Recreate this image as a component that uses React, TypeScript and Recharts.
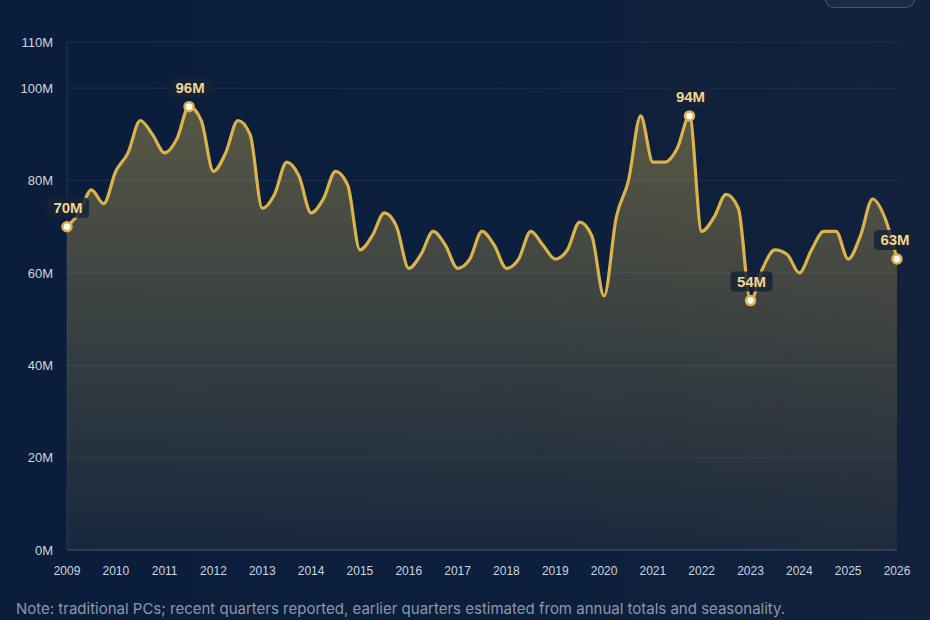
import { AreaChart, Area, XAxis, YAxis, CartesianGrid, LabelList } from 'recharts';

// quarterly shipments, millions, 2009 Q1 .. 2026 Q1
const shipments = [
  70, 73, 78, 75,
  82, 86, 93, 90,
  86, 89, 96, 93,
  82, 86, 93, 90,
  74, 77, 84, 81,
  73, 76, 82, 79,
  65, 68, 73, 70,
  61, 64, 69, 66,
  61, 63, 69, 66,
  61, 63, 69, 66,
  63, 65, 71, 68,
  55, 72, 80, 94,
  84, 84, 87, 94,
  69, 72, 77, 74,
  54, 61, 65, 64,
  60, 65, 69, 69,
  63, 68, 76, 72,
  63,
];
const startYear = 2009;
const yearTicks = [2009, 2010, 2011, 2012, 2013, 2014, 2015, 2016, 2017, 2018, 2019, 2020, 2021, 2022, 2023, 2024, 2025, 2026];
const valueTicks = [0, 20, 40, 60, 80, 100, 110];
const highlighted = [0, 10, 51, 56, 68];

const data = shipments.map((v, i) => ({ t: startYear + i / 4, value: v }));

const GOLD = '#dab34b';
const AXIS_FONT = '"Liberation Sans", Arial, sans-serif';

function MarkerDot(props: any) {
  const { cx, cy, index } = props;
  if (!highlighted.includes(index)) return <g key={`d-${index}`} />;
  return <circle key={`d-${index}`} cx={cx} cy={cy} r={4.5} fill="#fff" stroke={GOLD} strokeWidth={2.5} />;
}

function MarkerLabel(props: any) {
  const { x, y, value, index } = props;
  if (!highlighted.includes(index)) return null;
  const text = `${value}M`;
  const w = 42;
  const cx = index === shipments.length - 1 ? x - 2 : x + 1;
  return (
    <g>
      <rect x={cx - w / 2} y={y - 29} width={w} height={20} rx={4} fill="rgba(22,34,54,0.85)" />
      <text x={cx} y={y - 19} dy="0.36em" textAnchor="middle" fontSize={15} fontWeight={700} fill="#f2d68c" fontFamily={AXIS_FONT}>
        {text}
      </text>
    </g>
  );
}

export default function App() {
  return (
    <div
      style={{
        position: 'fixed',
        left: 0,
        top: 0,
        width: 930,
        height: 620,
        overflow: 'hidden',
        background: 'linear-gradient(90deg, #0a1e3c 0%, #0c1f3c 60%, #13223b 100%)',
        fontFamily: 'Inter, "Noto Sans", sans-serif',
      }}
    >
      <div
        style={{
          position: 'absolute',
          left: 825,
          top: -30,
          width: 88,
          height: 36,
          borderRadius: 9,
          border: '1px solid rgba(148,163,184,0.35)',
          background: '#1a2a40',
        }}
      />
      <AreaChart width={930} height={590} data={data} margin={{ top: 42, right: 33, left: 0, bottom: 0 }}>
        <defs>
          <linearGradient id="goldFill" x1="0" y1="0" x2="0" y2="1">
            <stop offset="0%" stopColor="#e2bd55" stopOpacity={0.6} />
            <stop offset="100%" stopColor="#e2bd55" stopOpacity={0.1} />
          </linearGradient>
        </defs>
        <CartesianGrid vertical={false} stroke="rgba(148,163,184,0.13)" />
        <XAxis
          dataKey="t"
          type="number"
          domain={[2009, 2026]}
          ticks={yearTicks}
          height={40}
          tickLine={false}
          tickMargin={10}
          axisLine={{ stroke: 'rgba(148,163,184,0.3)' }}
          tick={{ fontSize: 12, fill: '#cbd5e1', fontFamily: AXIS_FONT }}
        />
        <YAxis
          type="number"
          domain={[0, 110]}
          ticks={valueTicks}
          width={67}
          tickLine={false}
          tickMargin={8}
          axisLine={{ stroke: 'rgba(148,163,184,0.15)' }}
          tickFormatter={(v: number) => `${v}M`}
          tick={{ fontSize: 13, fill: '#cbd5e1', fontFamily: AXIS_FONT }}
        />
        <Area
          type="monotone"
          dataKey="value"
          stroke={GOLD}
          strokeWidth={3.2}
          fill="url(#goldFill)"
          dot={MarkerDot}
          activeDot={false}
          isAnimationActive={false}
        >
          <LabelList dataKey="value" content={MarkerLabel} />
        </Area>
      </AreaChart>
      <div style={{ position: 'absolute', left: 16, top: 600, fontSize: 15, lineHeight: '18px', color: '#8b97a9' }}>
        Note: traditional PCs; recent quarters reported, earlier quarters estimated from annual totals and seasonality.
      </div>
    </div>
  );
}
